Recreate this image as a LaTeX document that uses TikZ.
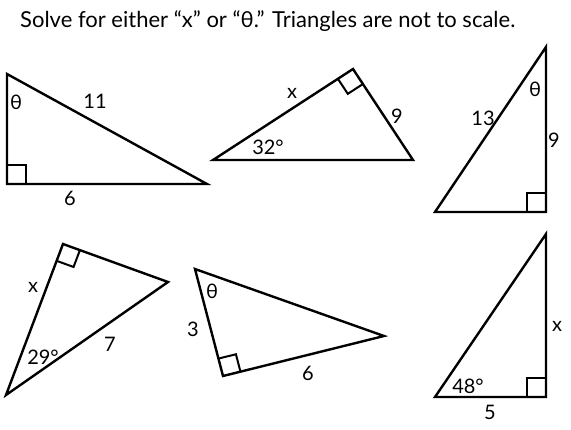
\documentclass[tikz,border=0pt]{standalone}
\usepackage{fontspec}
\setmainfont{Lato}
\usetikzlibrary{calc}
\begin{document}
\begin{tikzpicture}[x=1pt,y=-1pt,
  tri/.style={line width=2.4pt},
  sq/.style={line width=2pt},
  lbl/.style={font=\fontsize{20}{23}\selectfont, inner sep=0pt},
  ttl/.style={font=\fontsize{22}{26}\selectfont, inner sep=0pt, anchor=west}]
\useasboundingbox (0,0) rectangle (571,429);
\node[ttl] (title) at (20,21) {Solve for either “x” or “θ.” Triangles are not to scale.};
% triangle 1
\coordinate (a1) at (7,74); \coordinate (b1) at (7,184); \coordinate (c1) at (207,184);
\draw[tri] (a1) -- (b1) -- (c1) -- cycle;
\draw[sq] ($(b1)+(0,-19)$) -- ($(b1)+(19,-19)$) -- ($(b1)+(19,0)$);
\node[lbl] (t1) at (16,102) {θ};
\node[lbl] (l11) at (95,101) {11};
\node[lbl] (l6a) at (70,198) {6};
% triangle 2
\coordinate (a2) at (213,160); \coordinate (b2) at (353,69); \coordinate (c2) at (413,160);
\draw[tri] (a2) -- (b2) -- (c2) -- cycle;
\coordinate (p2) at ($(b2)!18pt!(a2)$); \coordinate (q2) at ($(b2)!18pt!(c2)$);
\draw[sq] (p2) -- ($(p2)+(q2)-(b2)$) -- (q2);
\node[lbl] (x2) at (292,93) {x};
\node[lbl] (n9a) at (397,116) {9};
\node[lbl] (d32) at (268,147) {32°};
% triangle 3
\coordinate (a3) at (546,47); \coordinate (b3) at (546,212); \coordinate (c3) at (435,212);
\draw[tri] (a3) -- (b3) -- (c3) -- cycle;
\draw[sq] ($(b3)+(0,-19)$) -- ($(b3)+(-19,-19)$) -- ($(b3)+(-19,0)$);
\node[lbl] (t3) at (535,89) {θ};
\node[lbl] (l13) at (483,118) {13};
\node[lbl] (n9b) at (554,140) {9};
% triangle 4
\coordinate (a4) at (63,244); \coordinate (b4) at (168,282); \coordinate (c4) at (6,395);
\draw[tri] (a4) -- (b4) -- (c4) -- cycle;
\coordinate (p4) at ($(a4)!18pt!(b4)$); \coordinate (q4) at ($(a4)!18pt!(c4)$);
\draw[sq] (p4) -- ($(p4)+(q4)-(a4)$) -- (q4);
\node[lbl] (x4) at (33,287) {x};
\node[lbl] (n7) at (110,344) {7};
\node[lbl] (d29) at (43,357) {29°};
% triangle 5
\coordinate (a5) at (195,269); \coordinate (b5) at (223,376); \coordinate (c5) at (384,336);
\draw[tri] (a5) -- (b5) -- (c5) -- cycle;
\coordinate (p5) at ($(b5)!18pt!(a5)$); \coordinate (q5) at ($(b5)!18pt!(c5)$);
\draw[sq] (p5) -- ($(p5)+(q5)-(b5)$) -- (q5);
\node[lbl] (t5) at (212,291) {θ};
\node[lbl] (n3) at (193,329) {3};
\node[lbl] (l6b) at (308,373) {6};
% triangle 6
\coordinate (a6) at (546,234); \coordinate (b6) at (546,397); \coordinate (c6) at (435,397);
\draw[tri] (a6) -- (b6) -- (c6) -- cycle;
\draw[sq] ($(b6)+(0,-19)$) -- ($(b6)+(-19,-19)$) -- ($(b6)+(-19,0)$);
\node[lbl] (x6) at (557,326) {x};
\node[lbl] (d48) at (468,386) {48°};
\node[lbl] (n5) at (490,412) {5};
\end{tikzpicture}
\end{document}
